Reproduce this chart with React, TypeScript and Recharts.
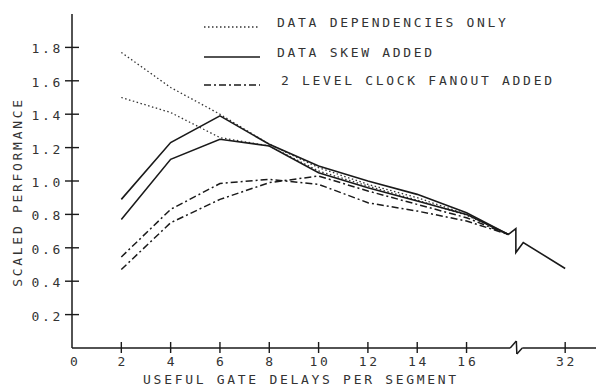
import { LineChart, Line, XAxis, YAxis, Legend, ReferenceLine } from 'recharts';

// values, x = useful gate delays per segment
const gateDelays = [2, 4, 6, 8, 10, 12, 14, 16];
const depsOnlyA = [1.77, 1.56, 1.4, 1.22, 1.08, 0.98, 0.9, 0.8];
const depsOnlyB = [1.5, 1.41, 1.26, 1.21, 1.06, 0.97, 0.885, 0.795];
const skewA = [0.89, 1.23, 1.39, 1.22, 1.09, 1.0, 0.92, 0.81];
const skewB = [0.77, 1.13, 1.25, 1.21, 1.05, 0.96, 0.88, 0.8];
const fanoutA = [0.545, 0.83, 0.985, 1.01, 0.98, 0.87, 0.82, 0.76];
const fanoutB = [0.47, 0.75, 0.89, 0.99, 1.03, 0.94, 0.86, 0.78];

// all curves join just before the axis break, then run on to 32
const joinPos = 17.7;
const joinValue = 0.68;
const value32 = 0.476;
// zigzag of the break symbol on the curve (axis units)
const breakPos = [18.0, 18.0, 18.3];
const breakValues = [0.715, 0.572, 0.632];

const xTickLabels = [0, 2, 4, 6, 8, 10, 12, 14, 16, 32];
const yTickValues = [0.2, 0.4, 0.6, 0.8, 1.0, 1.2, 1.4, 1.6, 1.8];

const legendNames = ['DATA DEPENDENCIES ONLY', 'DATA SKEW ADDED', '2 LEVEL CLOCK FANOUT ADDED'];

// 32 sits right after the break
const toPos = (d: number) => (d <= 16 ? d : 20);

const FONT = '"DejaVu Sans Mono", monospace';
const INK = '#1a1a1a';
const TEXT = '#333';
const SPACING = 2.7;

const styles: Record<string, any> = {
  dotted: { stroke: '#333', strokeWidth: 1.3, strokeDasharray: '1.5 2.5' },
  solid: { stroke: INK, strokeWidth: 1.6 },
  dashDot: { stroke: INK, strokeWidth: 1.5, strokeDasharray: '7 3 2 3' },
};
const legendStyles = [styles.dotted, styles.solid, styles.dashDot];

const toPoints = (values: number[]) => [
  ...gateDelays.map((g, i) => ({ pos: toPos(g), v: values[i] })),
  { pos: joinPos, v: joinValue },
];

const tail = [
  { pos: joinPos, v: joinValue },
  ...breakPos.map((p, i) => ({ pos: p, v: breakValues[i] })),
  { pos: toPos(32), v: value32 },
];

const textStyle = {
  fontFamily: FONT,
  fontSize: 13,
  fill: TEXT,
  letterSpacing: `${SPACING}px`,
};

// ticks cross the axis, plotter style
const XTick = (props: any) => {
  const x = Number(props.x);
  const y = Number(props.y);
  const val = props.payload.value;
  const label = val === 20 ? '32' : String(val);
  return (
    <g>
      {val !== 0 && <rect x={x - 0.7} y={y - 6} width={1.4} height={11} fill={INK} />}
      <text x={x + SPACING / 2 + (val === 0 ? 2 : 0)} y={y + 18} textAnchor="middle" style={textStyle}>
        {label}
      </text>
    </g>
  );
};

const YTick = (props: any) => {
  const x = Number(props.x);
  const y = Number(props.y);
  return (
    <g>
      <rect x={x - 7} y={y - 0.7} width={14} height={1.4} fill={INK} />
      <text x={x - 9} y={y + 6} textAnchor="end" style={textStyle}>
        {Number(props.payload.value).toFixed(1)}
      </text>
    </g>
  );
};

const LegendBox = () => {
  const rows = [22, 52, 80];
  return (
    <svg width={380} height={95}>
      {legendNames.map((name, i) => (
        <g key={name}>
          <line x1={9} x2={65} y1={rows[i]} y2={rows[i]} {...legendStyles[i]} />
          <text x={i === 2 ? 86 : 82} y={rows[i]} style={textStyle}>
            {name}
          </text>
        </g>
      ))}
    </svg>
  );
};

const YTitle = () => (
  <text x={22} y={192} transform="rotate(-90 22 192)" textAnchor="middle" style={textStyle}>
    SCALED PERFORMANCE
  </text>
);

const XTitle = () => (
  <text x={301} y={384} textAnchor="middle" style={textStyle}>
    USEFUL GATE DELAYS PER SEGMENT
  </text>
);

const axisLine = { stroke: INK, strokeWidth: 1.5 };

export default function App() {
  return (
    <div style={{ position: 'absolute', left: 0, top: 0, width: 600, height: 386, background: '#fff' }}>
      <LineChart width={600} height={386} margin={{ top: 14, right: 4, bottom: 0, left: 0 }}>
        <XAxis
          type="number"
          dataKey="pos"
          domain={[0, 21.25]}
          ticks={xTickLabels.map(toPos)}
          interval={0}
          height={38}
          tickSize={0}
          tickMargin={0}
          axisLine={false}
          tickLine={false}
          tick={<XTick />}
          label={XTitle}
        />
        <YAxis
          type="number"
          dataKey="v"
          domain={[0, 2]}
          ticks={yTickValues}
          interval={0}
          width={72}
          tickSize={0}
          tickMargin={0}
          axisLine={axisLine}
          tickLine={false}
          tick={<YTick />}
          label={YTitle}
        />
        {/* x axis drawn by hand so it can carry the break */}
        <ReferenceLine segment={[{ x: 0, y: 0 }, { x: 17.77, y: 0 }]} {...axisLine} ifOverflow="visible" />
        <ReferenceLine segment={[{ x: 17.77, y: 0 }, { x: 18.02, y: 0.042 }]} {...axisLine} ifOverflow="visible" />
        <ReferenceLine segment={[{ x: 18.02, y: 0.042 }, { x: 18.04, y: -0.036 }]} {...axisLine} ifOverflow="visible" />
        <ReferenceLine segment={[{ x: 18.04, y: -0.036 }, { x: 18.26, y: 0 }]} {...axisLine} ifOverflow="visible" />
        <ReferenceLine segment={[{ x: 18.26, y: 0 }, { x: 21.25, y: 0 }]} {...axisLine} ifOverflow="visible" />

        <Line data={toPoints(depsOnlyA)} dataKey="v" name={legendNames[0]} type="linear" dot={false} isAnimationActive={false} {...styles.dotted} />
        <Line data={toPoints(skewA)} dataKey="v" name={legendNames[1]} type="linear" dot={false} isAnimationActive={false} {...styles.solid} />
        <Line data={toPoints(fanoutA)} dataKey="v" name={legendNames[2]} type="linear" dot={false} isAnimationActive={false} {...styles.dashDot} />
        <Line data={toPoints(depsOnlyB)} dataKey="v" name="depsB" legendType="none" type="linear" dot={false} isAnimationActive={false} {...styles.dotted} />
        <Line data={toPoints(skewB)} dataKey="v" name="skewB" legendType="none" type="linear" dot={false} isAnimationActive={false} {...styles.solid} />
        <Line data={toPoints(fanoutB)} dataKey="v" name="fanoutB" legendType="none" type="linear" dot={false} isAnimationActive={false} {...styles.dashDot} />
        <Line data={tail} dataKey="v" name="tail" legendType="none" type="linear" dot={false} isAnimationActive={false} {...styles.solid} />

        <Legend
          layout="vertical"
          align="center"
          verticalAlign="middle"
          wrapperStyle={{ left: 195, top: 5, width: 380, height: 95 }}
          content={LegendBox}
        />
      </LineChart>
    </div>
  );
}
